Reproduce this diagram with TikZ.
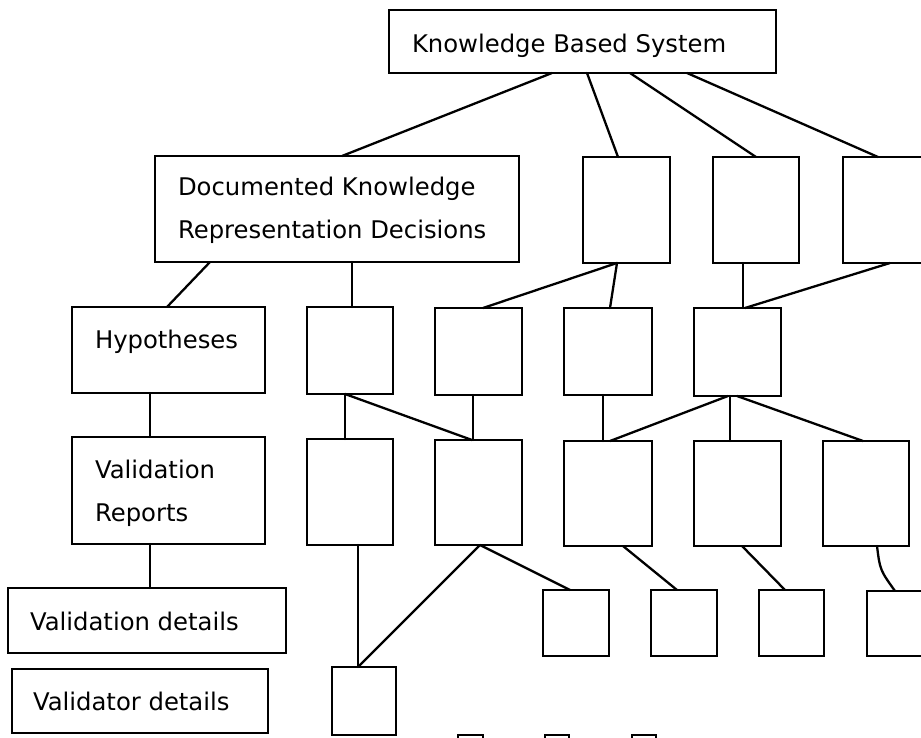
\documentclass[tikz,border=0pt]{standalone}
\usepackage{fontspec}
\setmainfont{DejaVu Sans}
\begin{document}
\begin{tikzpicture}[x=1pt,y=-1pt,
  box/.style={draw=black, line width=2.6pt, fill=white, inner sep=0pt, outer sep=0pt, anchor=north west},
  lbl/.style={anchor=base west, inner sep=0pt, outer sep=0pt, font=\fontsize{24.3}{28}\selectfont},
  conn/.style={draw=black, line width=2.3pt, line cap=round}]
\useasboundingbox (0,0) rectangle (921,737);
% boxes: name, x, y, w, h
\newcommand{\mybox}[5]{\node[box, minimum width=#4pt, minimum height=#5pt] (#1) at (#2,#3) {};}
\mybox{kbs}{389}{10}{387}{63}
\mybox{dkrd}{155}{156}{364}{106}
\mybox{tA}{583}{157}{87}{106}
\mybox{tB}{713}{157}{86}{106}
\mybox{tC}{843}{157}{100}{106}
\mybox{hyp}{72}{307}{193}{86}
\mybox{hB}{307}{307}{86}{87}
\mybox{hC}{435}{308}{87}{87}
\mybox{hD}{564}{308}{88}{87}
\mybox{hE}{694}{308}{87}{88}
\mybox{vr}{72}{437}{193}{107}
\mybox{vB}{307}{439}{86}{106}
\mybox{vC}{435}{440}{87}{105}
\mybox{vD}{564}{441}{88}{105}
\mybox{vE}{694}{441}{87}{105}
\mybox{vF}{823}{441}{86}{105}
\mybox{vd}{8}{588}{278}{65}
\mybox{vtd}{12}{669}{256}{64}
\mybox{sA}{332}{667}{64}{68}
\mybox{sB}{543}{590}{66}{66}
\mybox{sC}{651}{590}{66}{66}
\mybox{sD}{759}{590}{65}{66}
\mybox{sE}{867}{591}{80}{65}
\mybox{bA}{458}{735}{25}{30}
\mybox{bB}{545}{735}{24}{30}
\mybox{bC}{632}{735}{24}{30}
% labels
\node[lbl] (tkbs) at (412,52) {Knowledge Based System};
\node[lbl] (td1) at (178,195) {Documented Knowledge};
\node[lbl] (td2) at (178,238) {Representation Decisions};
\node[lbl] (thyp) at (95,348) {Hypotheses};
\node[lbl] (tv1) at (95,478) {Validation};
\node[lbl] (tv2) at (95,521) {Reports};
\node[lbl] (tvd) at (30,630) {Validation details};
\node[lbl] (tvtd) at (33,710) {Validator details};
% connectors
\draw[conn] (kbs.south -| 552,0) -- (dkrd.north -| 342,0);
\draw[conn] (kbs.south -| 587,0) -- (tA.north -| 618,0);
\draw[conn] (kbs.south -| 630,0) -- (tB.north -| 756,0);
\draw[conn] (kbs.south -| 687,0) -- (tC.north -| 878,0);
\draw[conn] (dkrd.south -| 210,0) -- (hyp.north -| 167,0);
\draw[conn] (dkrd.south -| 352,0) -- (hB.north -| 352,0);
\draw[conn] (tA.south -| 617,0) -- (hC.north -| 483,0);
\draw[conn] (tA.south -| 617,0) -- (hD.north -| 610,0);
\draw[conn] (tB.south -| 743,0) -- (hE.north -| 743,0);
\draw[conn] (tC.south -| 890,0) -- (hE.north -| 745,0);
\draw[conn] (hyp.south -| 150,0) -- (vr.north -| 150,0);
\draw[conn] (hB.south -| 345,0) -- (vB.north -| 345,0);
\draw[conn] (hB.south -| 345,0) -- (vC.north -| 472,0);
\draw[conn] (hC.south -| 473,0) -- (vC.north -| 473,0);
\draw[conn] (hD.south -| 603,0) -- (vD.north -| 603,0);
\draw[conn] (hE.south -| 728,0) -- (vD.north -| 610,0);
\draw[conn] (hE.south -| 730,0) -- (vE.north -| 730,0);
\draw[conn] (hE.south -| 737,0) -- (vF.north -| 863,0);
\draw[conn] (vr.south -| 150,0) -- (vd.north -| 150,0);
\draw[conn] (vB.south -| 358,0) -- (sA.north -| 358,0);
\draw[conn] (vC.south -| 480,0) -- (sA.north -| 358,0);
\draw[conn] (vC.south -| 480,0) -- (sB.north -| 570,0);
\draw[conn] (vD.south -| 623,0) -- (sC.north -| 677,0);
\draw[conn] (vE.south -| 742,0) -- (sD.north -| 785,0);
\draw[conn] (vF.south -| 877,0) .. controls (880,570) .. (sE.north -| 895,0);
\end{tikzpicture}
\end{document}
